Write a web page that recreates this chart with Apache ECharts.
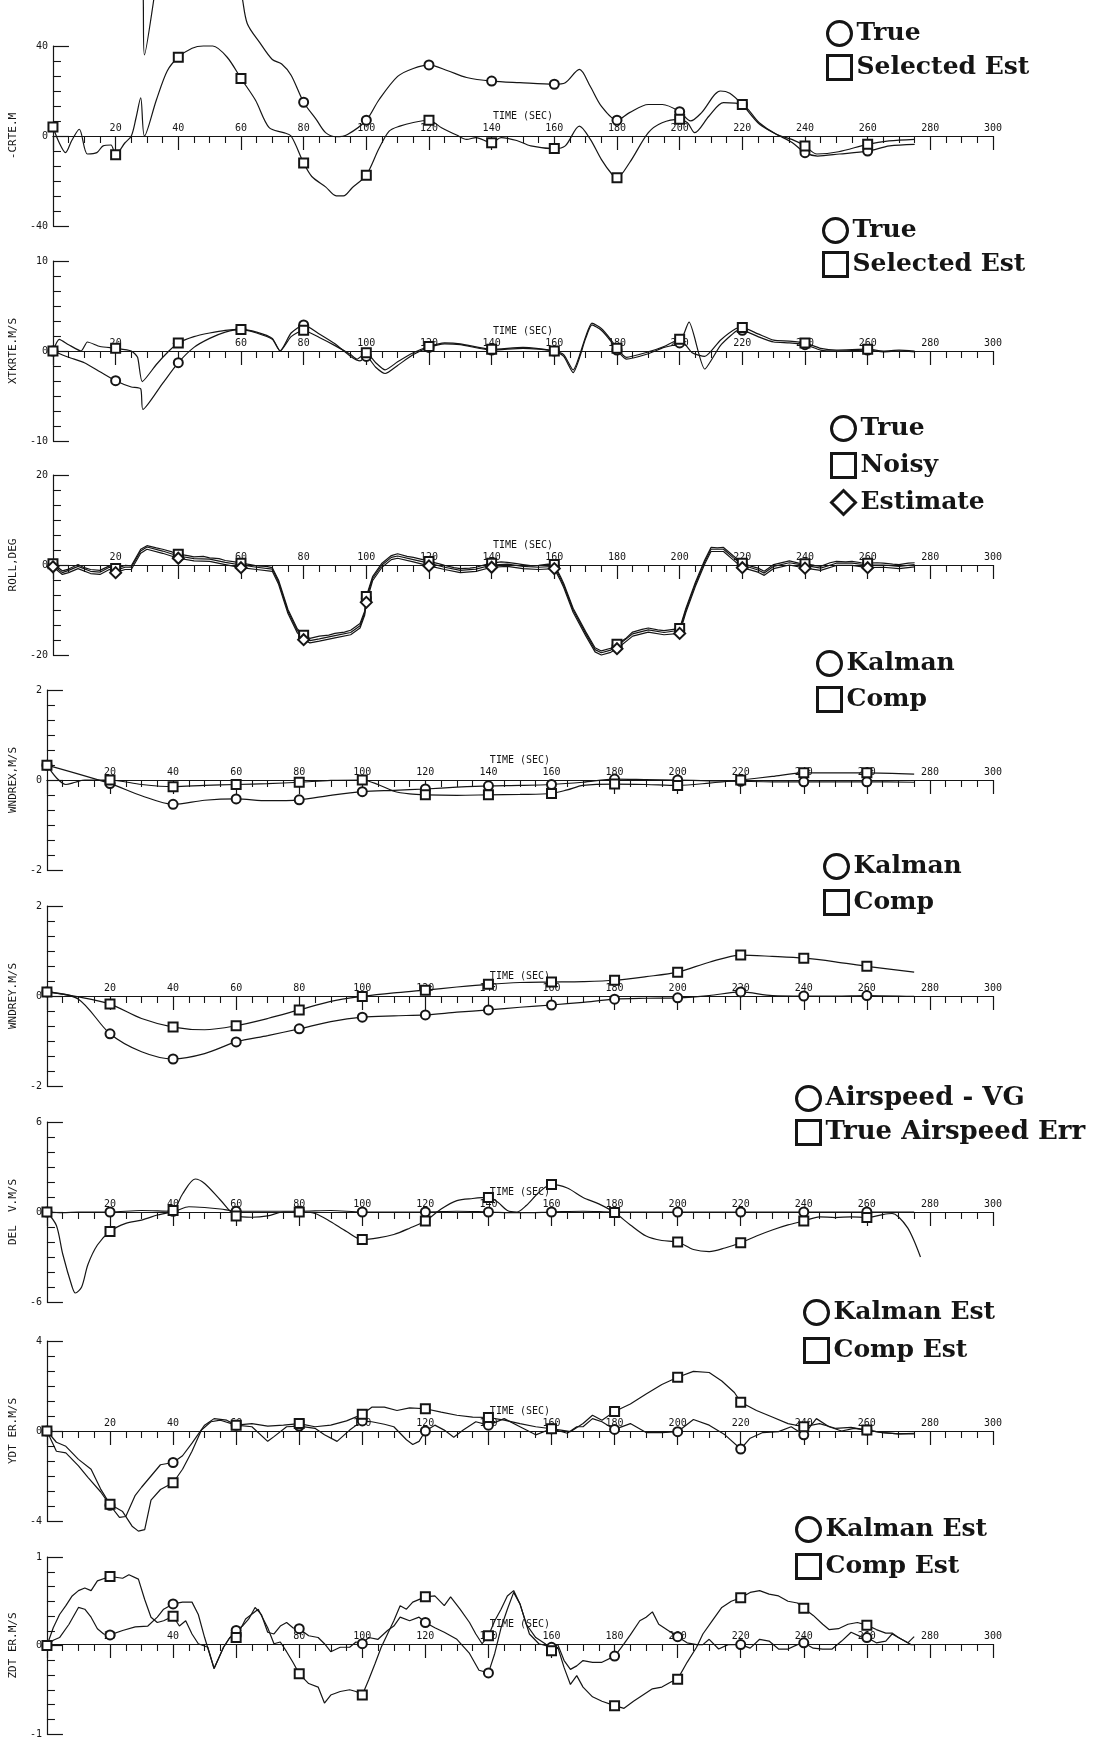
<!DOCTYPE html>
<html>
<head>
<meta charset="utf-8">
<title>Navigation filter time histories</title>
<script src="https://cdn.jsdelivr.net/npm/echarts@6/dist/echarts.min.js"></script>
<style>
  html, body { margin: 0; padding: 0; background: #fff; }
  #chart { width: 1110px; height: 1739px; }
</style>
</head>
<body>
<div id="chart"></div>
<script>
// ---- time axis ----
const timeTicks = [0, 20, 40, 60, 80, 100, 120, 140, 160, 180, 200, 220, 240, 260, 280, 300];

// ---- panel 1: cross-range error, m ----
const crteTrue = [[0,100],[10,110],[20,105],[26,95],[28.6,70],[29.2,36],[32,59],[34,80],[40,105],[50,100],[56,80],[60,64],[62,50],[66,41.5],[70,34],[73,32],[76,27],[80,15],[84,7.4],[87,1.5],[90.5,-0.3],[94,0.7],[100,7],[104,16],[110,26.5],[115,30],[120,31.6],[126,29],[132,26],[140,24.4],[149,23.7],[160,23],[163.5,23.7],[168,29.6],[171.5,22],[175,13.3],[180,7],[184,10.4],[190,14],[194.5,14],[200,10.8],[203.5,6.7],[207,10.4],[213,20],[216,19],[220,14],[225.5,5.2],[231,0.7],[236,-3],[240,-7.4],[244,-8.9],[251,-8],[260,-6.7],[267,-4.4],[275,-3.7]];
const crteEst = [[0,4],[2,-3],[4,-7.4],[6,-2],[8.4,3],[11,-8],[14,-7.4],[16,-4.4],[18.5,-4],[20,-8.3],[23,-3],[25,0],[26.5,8],[28,17],[29.2,0],[33,16],[36.5,29],[40,35],[44.4,39],[48,40],[51,40],[55.6,35],[60,25.6],[64.6,16],[69,3.7],[73.6,1.5],[76,0],[80,-12],[82.6,-18],[87,-22.6],[90.4,-26.6],[92.7,-26.6],[95.5,-23],[100,-17.4],[104,-5.7],[107.3,2.2],[110.7,4.4],[115,6],[120,7],[124,3.7],[129,0.3],[132,-1.5],[135,-0.7],[140,-3],[143,-0.7],[148,-2],[152.5,-4.4],[160,-5.6],[163.5,-4.4],[168,4.4],[171.5,-1.5],[175,-10.4],[178.4,-17],[180,-18.5],[184,-11.9],[190,1.5],[194.4,5.9],[200,7.4],[202.5,5.9],[204.8,1.5],[209.4,8.9],[214,14.8],[220,14],[225.4,5.9],[231,0.7],[235.8,-1.5],[240,-4.4],[243.8,-8],[250.7,-7],[260,-3.7],[266.8,-2.2],[275,-1.5]];

// ---- panel 2: cross-track rate error, m/s ----
const xtkTrue = [[0,0],[5,-0.7],[10,-1.3],[15,-2.3],[20,-3.3],[25,-4],[28,-4.2],[28.7,-6.5],[35,-3.6],[40,-1.3],[45,0.4],[50,1.4],[55,2.1],[60,2.4],[65,2.1],[70,1.4],[72.5,0],[76,2.0],[80,2.9],[85,1.9],[90,0.8],[95,-0.6],[98,-1.1],[100,-0.6],[103,-1.8],[106,-2.5],[110,-1.6],[115,-0.4],[120,0.4],[125,0.8],[130,0.7],[140,0.1],[150,0.3],[160,0],[163,-0.6],[166,-2.4],[170,1.4],[172,2.9],[175,2.3],[178,1.1],[180,0.1],[183,-0.9],[190,-0.3],[195,0.4],[200,0.9],[203,3.2],[208,-2.0],[213,0.6],[218,2.2],[220,2.3],[225,1.6],[230,1.0],[235,0.9],[240,0.7],[245,0.1],[250,0],[260,0.1],[265,-0.1],[270,0],[275,-0.1]];
const xtkEst = [[0,0],[2,1.3],[5,0.7],[9,0],[11,1.0],[15,0.5],[20,0.3],[25,0],[27,-0.7],[28.5,-3.4],[33,-1.5],[37,0],[40,0.9],[45,1.6],[50,2.0],[55,2.3],[60,2.4],[65,2.0],[70,1.3],[72.5,0],[76,1.6],[80,2.3],[85,1.5],[90,0.6],[95,-0.4],[97,-0.9],[100,-0.2],[103,-1.3],[106,-2.1],[110,-1.2],[115,-0.2],[120,0.5],[125,0.9],[130,0.8],[140,0.2],[150,0.4],[160,0],[163,-0.4],[166,-2.1],[170,1.6],[172,3.1],[175,2.5],[178,1.3],[180,0.3],[183,-0.7],[190,-0.1],[195,0.5],[200,1.3],[204,-0.2],[208,-0.6],[213,1.2],[218,2.5],[220,2.6],[225,1.9],[230,1.2],[235,1.1],[240,0.9],[245,0.3],[250,0.1],[260,0.2],[265,0],[270,0.1],[275,0]];

// ---- panel 3: roll, deg ----
const rollTrue = [[0,0],[3,-1.7],[5,-1.2],[8,-0.3],[12,-1.4],[15,-1.6],[18,-0.5],[20,-1.2],[23,-0.5],[25,-0.5],[28,3.1],[30,4.0],[35,3.1],[40,2.0],[45,1.4],[50,1.3],[55,0.6],[60,0],[65,-0.5],[70,-0.9],[72,-3.8],[75,-10.3],[78,-14.6],[80,-16],[82,-16.8],[85,-16.4],[90,-15.7],[95,-15],[98,-13.5],[99.5,-10.6],[100,-7.4],[102,-3],[105,0],[108,1.7],[110,2.0],[115,1.2],[120,0.4],[125,-0.5],[130,-1.2],[135,-0.9],[140,0],[145,0.2],[150,-0.3],[155,-0.5],[160,-0.3],[162,-3],[163,-4.5],[166,-10],[170,-15.2],[173,-18.8],[175,-19.5],[178,-18.9],[180,-18],[185,-15.3],[190,-14.4],[195,-15],[200,-14.5],[202,-10],[205,-4.3],[208,0.7],[210,3.5],[214,3.5],[217,1.7],[220,0],[225,-1.1],[227,-1.8],[230,-0.3],[235,0.5],[240,-0.1],[245,-0.7],[250,0.4],[255,0.4],[260,0],[265,0],[270,-0.3],[275,0.1]];
const rollNoisy = [[0,0.3],[3,-1.3],[5,-0.9],[8,0.1],[10,-0.6],[12,-1.0],[15,-1.2],[18,-0.2],[20,-0.8],[23,-0.1],[25,-0.2],[28,3.5],[30,4.3],[33,3.8],[35,3.5],[38,2.9],[40,2.4],[43,2.1],[45,1.8],[48,1.9],[50,1.6],[53,1.4],[55,1.0],[58,0.7],[60,0.4],[63,0.1],[65,-0.2],[68,-0.3],[70,-0.6],[72,-3.4],[75,-9.9],[78,-14.2],[80,-15.6],[82,-16.3],[85,-15.8],[88,-15.6],[90,-15.2],[93,-14.9],[95,-14.5],[98,-13.0],[99.5,-10.2],[100,-7.0],[102,-2.6],[105,0.4],[108,2.1],[110,2.5],[113,1.9],[115,1.7],[118,1.2],[120,0.8],[123,0.3],[125,-0.1],[128,-0.6],[130,-0.8],[133,-0.7],[135,-0.5],[138,0.1],[140,0.4],[143,0.7],[145,0.6],[148,0.3],[150,0.1],[153,-0.2],[155,-0.1],[158,0.2],[160,0.1],[162,-2.6],[163,-4.1],[166,-9.6],[170,-14.8],[173,-18.4],[175,-19.1],[178,-18.5],[180,-17.6],[183,-16.2],[185,-14.9],[188,-14.3],[190,-14.0],[193,-14.4],[195,-14.6],[198,-14.3],[200,-14.1],[202,-9.6],[205,-3.9],[208,1.1],[210,3.9],[212,3.8],[214,3.9],[217,2.1],[220,0.4],[223,-0.3],[225,-0.7],[227,-1.4],[230,0.1],[233,0.6],[235,0.9],[238,0.4],[240,0.3],[243,-0.1],[245,-0.3],[248,0.5],[250,0.8],[253,0.7],[255,0.8],[258,0.5],[260,0.4],[263,0.5],[265,0.4],[268,0.2],[270,0.1],[273,0.4],[275,0.5]];
const rollEst = [[0,-0.4],[3,-2.1],[5,-1.7],[8,-0.8],[12,-1.9],[15,-2.1],[18,-1.0],[20,-1.7],[23,-1.0],[25,-1.0],[28,2.6],[30,3.5],[35,2.6],[40,1.5],[45,0.9],[50,0.8],[55,0.1],[60,-0.6],[65,-1.0],[70,-1.4],[72,-4.3],[75,-10.8],[78,-15.1],[80,-16.6],[82,-17.3],[85,-16.9],[90,-16.2],[95,-15.5],[98,-14.0],[99.5,-11.1],[100,-8.3],[102,-3.5],[105,-0.5],[108,1.2],[110,1.5],[115,0.7],[120,-0.2],[125,-1.0],[130,-1.7],[135,-1.4],[140,-0.5],[145,-0.3],[150,-0.8],[155,-1.0],[160,-0.8],[162,-3.5],[163,-5.0],[166,-10.5],[170,-15.7],[173,-19.3],[175,-20.0],[178,-19.4],[180,-18.6],[185,-15.8],[190,-14.9],[195,-15.5],[200,-15.2],[202,-10.5],[205,-4.8],[208,0.2],[210,3.0],[214,3.0],[217,1.2],[220,-0.6],[225,-1.6],[227,-2.3],[230,-0.8],[235,0],[240,-0.7],[245,-1.2],[250,-0.1],[255,-0.1],[260,-0.6],[265,-0.5],[270,-0.8],[275,-0.4]];

// ---- panel 4: wind estimate X, m/s ----
const wndxKalman = [[0,0.33],[20,-0.08],[30,-0.35],[40,-0.54],[50,-0.45],[60,-0.42],[70,-0.46],[80,-0.44],[90,-0.34],[100,-0.26],[110,-0.23],[120,-0.2],[130,-0.16],[140,-0.13],[150,-0.12],[160,-0.1],[170,-0.05],[180,0.02],[190,0.01],[200,0],[210,-0.02],[220,-0.03],[230,-0.04],[240,-0.04],[250,-0.04],[260,-0.04],[275,-0.05]];
const wndxComp = [[0,0.33],[3,0.05],[6,-0.1],[9,-0.05],[12,0],[20,0],[30,-0.1],[40,-0.15],[50,-0.12],[60,-0.1],[70,-0.08],[80,-0.05],[90,-0.01],[100,0],[105,-0.1],[110,-0.25],[115,-0.31],[120,-0.33],[130,-0.34],[140,-0.33],[150,-0.32],[160,-0.3],[165,-0.22],[170,-0.12],[180,-0.09],[190,-0.1],[200,-0.12],[210,-0.07],[220,0],[230,0.08],[240,0.16],[250,0.16],[260,0.16],[275,0.13]];

// ---- panel 5: wind estimate Y, m/s ----
const wndyKalman = [[0,0.09],[10,-0.07],[20,-0.84],[30,-1.24],[40,-1.4],[50,-1.28],[60,-1.02],[70,-0.88],[80,-0.73],[90,-0.57],[100,-0.47],[110,-0.44],[120,-0.42],[130,-0.36],[140,-0.31],[150,-0.25],[160,-0.2],[170,-0.14],[180,-0.07],[190,-0.05],[200,-0.04],[210,0.01],[220,0.09],[230,0.01],[240,0],[250,0],[260,0.01],[275,-0.01]];
const wndyComp = [[0,0.09],[10,-0.02],[20,-0.18],[30,-0.5],[40,-0.69],[50,-0.75],[60,-0.66],[70,-0.5],[80,-0.31],[90,-0.12],[100,-0.01],[110,0.07],[120,0.13],[130,0.2],[140,0.26],[150,0.3],[160,0.31],[170,0.32],[180,0.35],[190,0.43],[200,0.53],[210,0.75],[220,0.91],[230,0.88],[240,0.84],[250,0.76],[260,0.66],[275,0.53]];

// ---- panel 6: airspeed error, m/s ----
const delvVg = [[0,0],[5,-0.05],[10,0],[20,0],[30,0.1],[40,0.05],[45,0.35],[50,0.3],[55,0.2],[60,0.05],[70,0.05],[80,0.05],[90,0.1],[100,0],[110,0],[120,0],[130,0.05],[140,0],[150,-0.05],[160,0],[170,0.05],[180,0],[190,0],[200,0],[220,0],[240,0],[260,0],[275,0]];
const delvErr = [[0,0],[3,-0.9],[5,-2.8],[8,-5.0],[9,-5.4],[11,-5.0],[13,-3.5],[16,-2.2],[20,-1.3],[25,-0.76],[30,-0.54],[35,-0.2],[40,0.1],[43,1.2],[47,2.2],[50,1.9],[55,0.8],[60,-0.26],[65,-0.35],[70,-0.26],[75,0],[80,0],[85,-0.1],[90,-0.65],[95,-1.3],[100,-1.84],[105,-1.73],[110,-1.5],[115,-1.08],[120,-0.6],[125,0.2],[130,0.76],[135,0.9],[140,0.97],[143,0.65],[146,0.1],[149,0],[152,0.43],[156,1.3],[160,1.84],[165,1.6],[170,0.97],[175,0.54],[180,-0.04],[185,-0.86],[190,-1.6],[195,-1.9],[200,-2.0],[205,-2.5],[210,-2.64],[215,-2.4],[220,-2.05],[225,-1.6],[230,-1.2],[235,-0.86],[240,-0.6],[245,-0.32],[250,-0.37],[255,-0.32],[260,-0.37],[265,-0.17],[268,-0.1],[270,-0.32],[273,-1.08],[275,-1.94],[277,-3.0]];

// ---- panel 7: Y velocity error, m/s ----
const ydtKalman = [[0,0],[3,-0.9],[6,-0.97],[10,-1.55],[13,-2.06],[17,-2.7],[20,-3.3],[23,-3.84],[25,-3.8],[28,-2.86],[30,-2.5],[33,-2.0],[36,-1.5],[40,-1.4],[43,-1.1],[46,-0.54],[50,0.26],[53,0.55],[57,0.48],[60,0.26],[65,0.19],[70,-0.46],[72,-0.25],[76,0.19],[80,0.22],[85,0.12],[88,-0.17],[92,-0.46],[96,0.04],[100,0.45],[103,0.41],[107,0.3],[110,0.19],[114,-0.39],[116,-0.6],[118,-0.46],[120,0],[123,0.26],[126,0.04],[129,-0.28],[132,0.04],[136,0.41],[140,0.26],[145,0.55],[150,0.19],[155,-0.17],[160,0.1],[165,-0.1],[168,0.19],[170,0.19],[173,0.55],[176,0.41],[180,0.07],[185,0.33],[190,-0.07],[195,-0.07],[200,-0.03],[205,0.51],[210,0.26],[215,-0.17],[220,-0.8],[223,-0.32],[227,-0.07],[232,-0.03],[236,0.19],[240,-0.17],[244,0.55],[248,0.19],[252,0],[256,0.12],[260,0.04],[265,-0.07],[270,-0.13],[275,-0.1]];
const ydtComp = [[0,0],[3,-0.5],[6,-0.68],[10,-1.26],[14,-1.7],[17,-2.57],[20,-3.26],[24,-3.58],[27,-4.23],[29,-4.45],[31,-4.38],[33,-3.07],[36,-2.6],[40,-2.3],[43,-1.7],[46,-0.9],[49,0.04],[52,0.41],[55,0.48],[60,0.26],[65,0.33],[70,0.22],[75,0.26],[80,0.33],[85,0.19],[90,0.26],[95,0.45],[100,0.74],[103,1.06],[107,1.06],[111,0.91],[115,1.03],[120,0.99],[125,0.84],[130,0.7],[135,0.62],[140,0.6],[145,0.48],[150,0.33],[155,0.19],[160,0.1],[163,0.04],[166,-0.03],[170,0.33],[173,0.7],[176,0.48],[180,0.87],[185,1.2],[190,1.64],[195,2.07],[200,2.39],[205,2.65],[210,2.6],[214,2.22],[218,1.71],[220,1.28],[225,0.91],[230,0.62],[235,0.33],[240,0.19],[245,0.33],[250,0.12],[255,0.16],[260,0.04],[265,-0.07],[270,-0.13],[275,-0.13]];

// ---- panel 8: Z velocity error, m/s ----
const zdtKalman = [[0,0],[2,0.06],[4,0.09],[7,0.24],[10,0.43],[12,0.41],[14,0.32],[16,0.19],[18,0.13],[20,0.12],[24,0.17],[28,0.21],[32,0.22],[35,0.32],[37,0.41],[40,0.47],[43,0.49],[46,0.49],[48,0.35],[50,0.09],[53,-0.26],[56,-0.02],[58,0.09],[60,0.17],[62,0.22],[64,0.3],[66,0.43],[68,0.35],[70,0.15],[72,0.13],[74,0.22],[76,0.26],[78,0.2],[80,0.19],[83,0.11],[86,0.09],[88,0.02],[90,-0.07],[93,-0.02],[96,-0.02],[98,0.04],[100,0.02],[102,0.09],[105,0.07],[108,0.17],[110,0.22],[112,0.32],[115,0.28],[118,0.32],[120,0.26],[123,0.2],[126,0.15],[130,0.07],[134,-0.09],[137,-0.28],[140,-0.31],[142,-0.09],[144,0.2],[146,0.41],[148,0.6],[150,0.47],[153,0.13],[156,0.02],[160,-0.02],[162,0.01],[164,-0.17],[166,-0.27],[168,-0.23],[170,-0.17],[173,-0.19],[176,-0.19],[180,-0.12],[182,-0.03],[185,0.12],[188,0.28],[190,0.32],[192,0.38],[194,0.24],[197,0.17],[200,0.1],[203,0.03],[206,0.01],[208,0.01],[210,0.07],[213,-0.04],[216,0.01],[218,0.01],[220,0.01],[223,-0.03],[226,0.07],[229,0.05],[232,-0.04],[235,-0.04],[238,0.01],[240,0.03],[243,-0.03],[246,-0.04],[249,-0.04],[252,0.05],[255,0.15],[258,0.1],[260,0.09],[263,0.03],[266,0.05],[268,0.13],[270,0.09],[273,0.03],[275,0.1]];
const zdtComp = [[0,0],[2,0.2],[4,0.35],[6,0.45],[8,0.56],[10,0.62],[12,0.65],[14,0.62],[16,0.73],[20,0.78],[24,0.76],[26,0.8],[29,0.75],[31,0.52],[33,0.32],[35,0.26],[37,0.28],[40,0.33],[42,0.22],[44,0.28],[46,0.13],[48,0.02],[51,-0.02],[53,-0.26],[56,-0.02],[58,0.09],[60,0.09],[63,0.3],[67,0.41],[70,0.2],[72,0.02],[74,0.04],[76,-0.07],[78,-0.19],[80,-0.32],[83,-0.43],[86,-0.47],[88,-0.65],[90,-0.56],[93,-0.52],[96,-0.5],[98,-0.52],[100,-0.56],[102,-0.39],[104,-0.21],[106,-0.02],[108,0.13],[110,0.28],[112,0.45],[114,0.41],[116,0.49],[120,0.55],[123,0.56],[126,0.45],[128,0.55],[131,0.41],[134,0.26],[136,0.13],[138,0.02],[140,0.11],[142,0.28],[144,0.41],[146,0.56],[148,0.62],[150,0.47],[152,0.24],[155,0.09],[158,0.02],[160,-0.06],[162,-0.02],[164,-0.25],[166,-0.44],[168,-0.34],[170,-0.47],[173,-0.58],[176,-0.63],[180,-0.68],[183,-0.71],[186,-0.63],[189,-0.56],[192,-0.49],[195,-0.47],[198,-0.41],[200,-0.38],[203,-0.19],[206,-0.02],[208,0.13],[211,0.28],[214,0.43],[217,0.5],[220,0.54],[223,0.6],[226,0.62],[229,0.58],[232,0.56],[235,0.5],[238,0.48],[240,0.42],[243,0.34],[246,0.24],[248,0.18],[251,0.19],[254,0.24],[257,0.26],[260,0.23],[263,0.18],[266,0.14],[268,0.14],[270,0.09],[272,0.05],[274,0.01],[275,0.01]];

// ---- panel definitions (axis titles, ranges, series, legend placement [left, top, gap, fontSize]) ----
const panels = [
  { axisName: '-CRTE.M',    limit: 40, top: 46,
    legend: [821, 15, 7, 25],  smooth: 0.3,
    lines: [['True', 'circle', crteTrue], ['Selected Est', 'rect', crteEst]] },
  { axisName: 'XTKRTE.M/S', limit: 10, top: 261,
    legend: [817, 212, 7, 25], smooth: 0.2,
    lines: [['True', 'circle', xtkTrue], ['Selected Est', 'rect', xtkEst]] },
  { axisName: 'ROLL,DEG',   limit: 20, top: 475,
    legend: [825, 410, 10, 25], smooth: false,
    lines: [['True', 'circle', rollTrue], ['Noisy', 'rect', rollNoisy], ['Estimate', 'diamond', rollEst]] },
  { axisName: 'WNDREX,M/S', limit: 2, top: 690,
    legend: [811, 645, 9, 25], smooth: 0.3,
    lines: [['Kalman', 'circle', wndxKalman], ['Comp', 'rect', wndxComp]] },
  { axisName: 'WNDREY.M/S', limit: 2, top: 906,
    legend: [818, 848, 9, 25], smooth: 0.3,
    lines: [['Kalman', 'circle', wndyKalman], ['Comp', 'rect', wndyComp]] },
  { axisName: 'DEL  V.M/S', limit: 6, top: 1122,
    legend: [790, 1080, 7, 26], smooth: 0.3,
    lines: [['Airspeed - VG', 'circle', delvVg], ['True Airspeed Err', 'rect', delvErr]] },
  { axisName: 'YDT ER.M/S', limit: 4, top: 1341,
    legend: [798, 1294, 11, 25], smooth: false,
    lines: [['Kalman Est', 'circle', ydtKalman], ['Comp Est', 'rect', ydtComp]] },
  { axisName: 'ZDT ER.M/S', limit: 1, top: 1557,
    legend: [790, 1511, 10, 25], smooth: false,
    lines: [['Kalman Est', 'circle', zdtKalman], ['Comp Est', 'rect', zdtComp]] }
];

const INK = '#151515';
const PLOT_FONT = 'DejaVu Sans Mono';
const LEGEND_FONT = 'DejaVu Serif';
const GRID_LEFT = 44, GRID_RIGHT = 117, GRID_HEIGHT = 180;

const grid = [], xAxis = [], yAxis = [], series = [], legend = [];

panels.forEach((p, i) => {
  grid.push({ left: GRID_LEFT, right: GRID_RIGHT, top: p.top, height: GRID_HEIGHT, containLabel: false });

  // the time axis runs through the middle of each (symmetric) value range
  xAxis.push({
    gridIndex: i, type: 'value', position: 'bottom', offset: -GRID_HEIGHT / 2,
    min: timeTicks[0], max: timeTicks[timeTicks.length - 1], interval: 20,
    name: 'TIME (SEC)', nameLocation: 'middle', nameGap: -25,
    nameTextStyle: { color: INK, fontFamily: PLOT_FONT, fontSize: 10 },
    axisLine: { onZero: false, lineStyle: { color: INK, width: 1.2 } },
    axisTick: { show: true, inside: false, length: 14, lineStyle: { color: INK, width: 1.2 } },
    minorTick: { show: true, splitNumber: 4, length: 7, lineStyle: { color: INK, width: 1.1 } },
    axisLabel: { inside: true, margin: 3, showMinLabel: false, color: INK, fontFamily: PLOT_FONT, fontSize: 10 },
    splitLine: { show: false }
  });

  yAxis.push({
    gridIndex: i, type: 'value',
    min: -p.limit, max: p.limit, interval: p.limit,
    name: p.axisName, nameLocation: 'middle', nameGap: 25,
    nameTextStyle: { color: INK, fontFamily: PLOT_FONT, fontSize: 11 },
    axisLine: { show: true, lineStyle: { color: INK, width: 1.2 } },
    axisTick: { show: true, inside: true, length: 16, lineStyle: { color: INK, width: 1.2 } },
    minorTick: { show: true, splitNumber: 6, length: 8, lineStyle: { color: INK, width: 1.1 } },
    axisLabel: { margin: 5, color: INK, fontFamily: PLOT_FONT, fontSize: 10 },
    splitLine: { show: false }
  });

  p.lines.forEach(([name, shape, data]) => {
    const marker = 'empty' + shape.charAt(0).toUpperCase() + shape.slice(1);
    series.push({
      type: 'line', name, xAxisIndex: i, yAxisIndex: i, data,
      smooth: p.smooth, clip: false, showAllSymbol: true,
      symbol: (v) => (v[0] % 20 === 0 ? marker : 'none'),
      symbolSize: shape === 'diamond' ? 11 : 9,
      lineStyle: { color: INK, width: 1.2 },
      itemStyle: { color: INK, borderColor: INK, borderWidth: 1.2 },
      emphasis: { disabled: true },
      animation: false
    });
  });

  legend.push({
    orient: 'vertical', left: p.legend[0], top: p.legend[1],
    itemWidth: 24, itemHeight: 24, itemGap: p.legend[2], selectedMode: false,
    textStyle: { color: INK, fontFamily: LEGEND_FONT, fontSize: p.legend[3], fontWeight: 'bold' },
    data: p.lines.map(([name, shape]) => ({
      name, icon: shape,
      itemStyle: { color: '#fff', borderColor: INK, borderWidth: 3 }
    }))
  });
});

const chart = echarts.init(document.getElementById('chart'), null, { renderer: 'canvas' });
chart.setOption({
  backgroundColor: '#fff',
  animation: false,
  grid, xAxis, yAxis, series, legend
});
</script>
</body>
</html>
